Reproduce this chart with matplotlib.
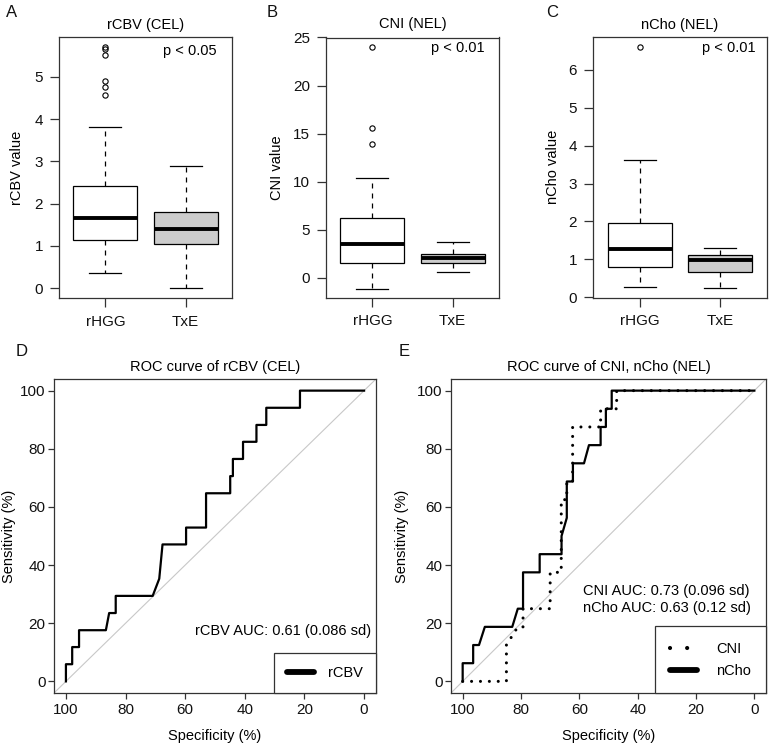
import matplotlib
matplotlib.use("Agg")
import matplotlib.pyplot as plt
from matplotlib.lines import Line2D

plt.rcParams['font.family'] = ['Liberation Sans', 'DejaVu Sans']

W, H = 771, 744

# ---------------- data ----------------
groups = ["rHGG", "TxE"]
box_colors = ["white", "#cccccc"]

rcbv_whislo = [0.35, 0.00]
rcbv_q1 = [1.15, 1.05]
rcbv_med = [1.67, 1.41]
rcbv_q3 = [2.42, 1.80]
rcbv_whishi = [3.81, 2.88]
rcbv_fliers = [[4.57, 4.76, 4.90, 5.52, 5.65, 5.71], []]

cni_whislo = [-1.15, 0.59]
cni_q1 = [1.49, 1.49]
cni_med = [3.47, 2.01]
cni_q3 = [6.25, 2.47]
cni_whishi = [10.35, 3.75]
cni_fliers = [[13.89, 15.56, 24.03], []]

ncho_whislo = [0.27, 0.24]
ncho_q1 = [0.79, 0.67]
ncho_med = [1.28, 0.99]
ncho_q3 = [1.97, 1.11]
ncho_whishi = [3.61, 1.29]
ncho_fliers = [[6.61], []]

# ROC curves (specificity %, sensitivity %)
rcbv_spec = [100, 100, 97.9, 97.9, 95.6, 95.6, 86.6, 85.5, 83.3, 83.3, 70.9, 68.7,
             67.6, 59.7, 59.7, 53.0, 53.0, 44.9, 44.9, 44.0, 44.0, 40.6, 40.6, 36.1,
             36.1, 32.8, 32.8, 21.5, 21.5, 0]
rcbv_sens = [0, 5.9, 5.9, 11.8, 11.8, 17.6, 17.6, 23.5, 23.5, 29.4, 29.4, 35.3,
             47.1, 47.1, 52.9, 52.9, 64.7, 64.7, 70.6, 70.6, 76.5, 76.5, 82.4, 82.4,
             88.2, 88.2, 94.1, 94.1, 100, 100]

ncho_spec = [100, 100, 96.4, 96.4, 94.4, 92.4, 83.0, 81.1, 79.3, 79.3, 73.6, 73.6,
             66.1, 66.1, 64.3, 64.3, 62.2, 62.2, 58.4, 56.7, 52.7, 52.7, 50.9, 50.9,
             48.9, 48.9, 0]
ncho_sens = [0, 6.25, 6.25, 12.5, 12.5, 18.75, 18.75, 25, 25, 37.5, 37.5, 43.75,
             43.75, 50, 56.25, 68.75, 68.75, 75, 75, 81.25, 81.25, 87.5, 87.5, 93.75,
             93.75, 100, 100]

cni_spec = [100, 85.0, 85.0, 81.1, 79.3, 79.3, 70.0, 70.0, 66.2, 66.2, 64.3, 64.3,
            62.3, 62.3, 52.7, 52.7, 47.2, 47.2, 0]
cni_sens = [0, 0, 12.5, 18.75, 18.75, 25, 25, 37.5, 37.5, 62.5, 62.5, 68.75,
            68.75, 87.5, 87.5, 93.75, 93.75, 100, 100]

auc_rcbv = "rCBV AUC: 0.61 (0.086 sd)"
auc_cni = "CNI AUC: 0.73 (0.096 sd)"
auc_ncho = "nCho AUC: 0.63 (0.12 sd)"

# ---------------- figure ----------------
fig = plt.figure(figsize=(W / 100, H / 100), dpi=100)
fig.patch.set_facecolor("white")

SPINE = "#333333"


def px_axes(x0, x1, top, bottom):
    return fig.add_axes([x0 / W, 1 - bottom / H, (x1 - x0) / W, (bottom - top) / H])


def style_axes(ax, length, pad_x, pad_y):
    for s in ax.spines.values():
        s.set_color(SPINE)
        s.set_linewidth(0.9)
    ax.tick_params(direction="out", length=length, width=0.9, color=SPINE,
                   labelsize=11, labelcolor="#111111")
    ax.tick_params(axis="x", pad=pad_x)
    ax.tick_params(axis="y", pad=pad_y)


def boxpanel(ax, whislo, q1, med, q3, whishi, fliers, ylim, yticks,
             title, ylabel, ptext, ylab_x, ptx, pty, title_y):
    stats = []
    for i in range(len(groups)):
        stats.append(dict(whislo=whislo[i], q1=q1[i], med=med[i], q3=q3[i],
                          whishi=whishi[i], fliers=fliers[i], label=groups[i]))
    bp = ax.bxp(stats, positions=[1, 2], widths=0.8, capwidths=0.4,
                patch_artist=True, manage_ticks=False,
                boxprops=dict(edgecolor="black", linewidth=0.9),
                whiskerprops=dict(color="black", linewidth=0.9, linestyle=(0, (4.0, 4.0))),
                capprops=dict(color="black", linewidth=0.9),
                medianprops=dict(color="black", linewidth=2.8, solid_capstyle="butt"),
                flierprops=dict(marker="o", markerfacecolor="none",
                                markeredgecolor="black", markersize=3.8,
                                markeredgewidth=0.8))
    for patch, c in zip(bp["boxes"], box_colors):
        patch.set_facecolor(c)
    ax.set_xlim(0.42, 2.58)
    ax.set_ylim(*ylim)
    ax.set_yticks(yticks)
    ax.set_xticks([1, 2], groups)
    style_axes(ax, 6.5, 5.5, 5)
    ax.set_ylabel(ylabel, fontsize=10.5, va="center")
    ax.yaxis.set_label_coords(ylab_x, 0.5)
    ax.text(0.5, title_y, title, transform=ax.transAxes, ha="center",
            va="center", fontsize=10.5)
    ax.text(ptx, pty, ptext, transform=ax.transAxes, ha="right", va="center",
            fontsize=10.5)


axA = px_axes(59, 232, 37, 298)
boxpanel(axA, rcbv_whislo, rcbv_q1, rcbv_med, rcbv_q3, rcbv_whishi, rcbv_fliers,
         (-0.23, 5.94), [0, 1, 2, 3, 4, 5], "rCBV (CEL)", "rCBV value", "p < 0.05",
         -0.24, 0.913, 0.946, 1 + (37 - 25) / 261)

axB = px_axes(326, 499, 37.5, 297.7)
boxpanel(axB, cni_whislo, cni_q1, cni_med, cni_q3, cni_whishi, cni_fliers,
         (-2.08, 25.0), [0, 5, 10, 15, 20, 25], "CNI (NEL)", "CNI value", "p < 0.01",
         -0.285, 0.919, 0.96, 1 + (37.5 - 24.5) / 260)

axC = px_axes(593, 767, 36.7, 297.7)
boxpanel(axC, ncho_whislo, ncho_q1, ncho_med, ncho_q3, ncho_whishi, ncho_fliers,
         (-0.01, 6.87), [0, 1, 2, 3, 4, 5, 6], "nCho (NEL)", "nCho value", "p < 0.01",
         -0.228, 0.937, 0.957, 1 + (36.7 - 24.5) / 261)


def rocpanel(ax, title, ylab_x):
    ax.set_xlim(104, -4)
    ax.set_ylim(-4, 104)
    ax.plot([110, -10], [-10, 110], color="#c8c8c8", linewidth=0.8, zorder=1)
    ax.set_xticks([100, 80, 60, 40, 20, 0])
    ax.set_yticks([0, 20, 40, 60, 80, 100])
    style_axes(ax, 4.5, 2.5, 1.5)
    ax.set_xlabel("Specificity (%)", fontsize=10.5, va="center")
    ax.xaxis.set_label_coords(0.5, (693 - 736) / 314)
    ax.set_ylabel("Sensitivity (%)", fontsize=10.5, va="center")
    ax.yaxis.set_label_coords(ylab_x, 0.5)
    ax.text(0.5, 1 + (379 - 366.7) / 314, title, transform=ax.transAxes,
            ha="center", va="center", fontsize=10.5)


def legend(ax, handles, labels, pad, hlen, htpad, hheight, lspace):
    leg = ax.legend(handles, labels, loc="lower right", bbox_to_anchor=(1, 0),
                    borderaxespad=0, fancybox=False, framealpha=1,
                    edgecolor=SPINE, fontsize=10.5, handlelength=hlen,
                    handletextpad=htpad, borderpad=pad, labelspacing=lspace,
                    handleheight=hheight)
    leg.get_frame().set_linewidth(0.9)
    return leg


axD = px_axes(54, 376, 379, 693)
rocpanel(axD, "ROC curve of rCBV (CEL)", (8.8 - 54) / 322)
axD.plot(rcbv_spec, rcbv_sens, color="black", linewidth=1.6, zorder=3)
axD.text(0.984, (693 - 631) / 314, auc_rcbv, transform=axD.transAxes,
         ha="right", va="center", fontsize=10.5)
legend(axD, [Line2D([], [], color="black", linewidth=4.2, solid_capstyle="round")],
       ["rCBV"], 0.9, 1.87, 0.95, 0.7, 0.5)

axE = px_axes(451, 766, 379, 693)
rocpanel(axE, "ROC curve of CNI, nCho (NEL)", (401.7 - 451) / 315)
axE.plot(cni_spec, cni_sens, color="black", linewidth=2.2,
         linestyle=(0, (0.01, 2.9)), dash_capstyle="round", zorder=3)
axE.plot(ncho_spec, ncho_sens, color="black", linewidth=1.6, zorder=4)
axE.text(0.949, (693 - 591) / 314, auc_cni, transform=axE.transAxes,
         ha="right", va="center", fontsize=10.5)
axE.text(0.952, (693 - 608) / 314, auc_ncho, transform=axE.transAxes,
         ha="right", va="center", fontsize=10.5)
legend(axE,
       [Line2D([], [], color="black", linewidth=3.0, linestyle=(0, (0.01, 4.1)),
               dash_capstyle="round"),
        Line2D([], [], color="black", linewidth=4.2, solid_capstyle="round")],
       ["CNI", "nCho"], 1.05, 1.85, 1.3, 0.7, 0.55)

# panel letters
for lab, x, y in [("A", 11.7, 12.5), ("B", 271.7, 12.5), ("C", 551.7, 12.5),
                  ("D", 21.7, 352), ("E", 404, 352)]:
    fig.text(x / W, 1 - y / H, lab, ha="center", va="center", fontsize=12,
             color="#111111")

fig.savefig("out.png", dpi=100, facecolor="white")
